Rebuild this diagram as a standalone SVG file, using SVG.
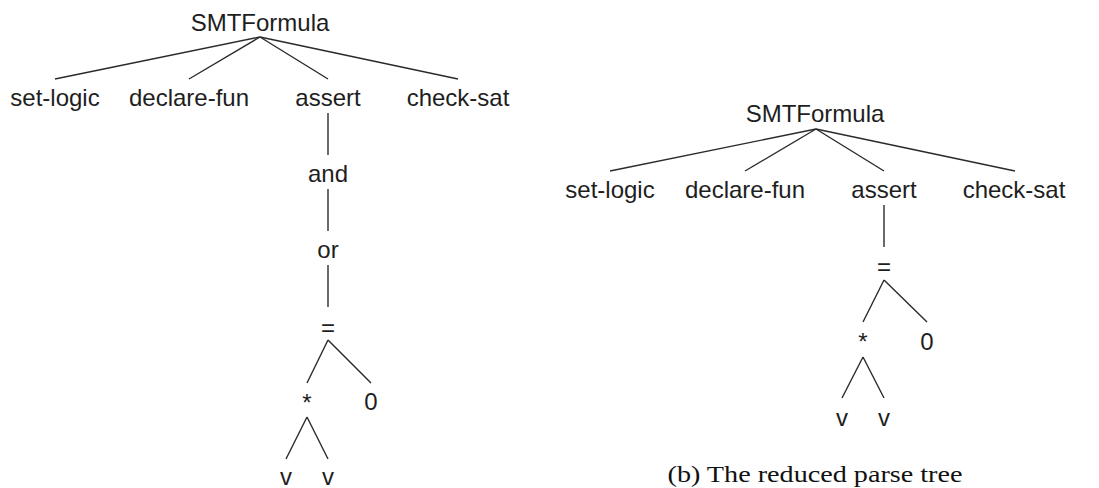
<svg xmlns="http://www.w3.org/2000/svg" width="1099" height="488" viewBox="0 0 1099 488">
<style>
.n{font-family:"Liberation Sans",Arial,sans-serif;font-size:24px;fill:#1e1e1e;text-anchor:middle}
.e line{stroke:#2a2a2a;stroke-width:1.4;fill:none}
.cap{font-family:"Liberation Serif","Times New Roman",serif;font-size:23px;fill:#111;text-anchor:middle}
</style>
<rect width="1099" height="488" fill="#fff"/>
<g id="connectors" class="e">
<line x1="260" y1="37" x2="55" y2="79"/>
<line x1="260" y1="37" x2="189" y2="79"/>
<line x1="260" y1="37" x2="328" y2="79"/>
<line x1="260" y1="37" x2="458" y2="79"/>
<line x1="328" y1="113" x2="328" y2="155"/>
<line x1="328" y1="189" x2="328" y2="231"/>
<line x1="328" y1="265" x2="328" y2="307"/>
<line x1="328" y1="340" x2="307" y2="383"/>
<line x1="328" y1="340" x2="371" y2="383"/>
<line x1="307" y1="417" x2="286" y2="459"/>
<line x1="307" y1="417" x2="328" y2="459"/>
<line x1="816" y1="129" x2="610" y2="171"/>
<line x1="816" y1="129" x2="745" y2="171"/>
<line x1="816" y1="129" x2="884" y2="171"/>
<line x1="816" y1="129" x2="1015" y2="171"/>
<line x1="884" y1="205" x2="884" y2="247"/>
<line x1="884" y1="280" x2="863" y2="322"/>
<line x1="884" y1="280" x2="927" y2="322"/>
<line x1="863" y1="357" x2="842" y2="398"/>
<line x1="863" y1="357" x2="884" y2="398"/>
</g>
<g id="a-root"><text class="n" x="260" y="31">SMTFormula</text></g>
<g id="a-setlogic"><text class="n" x="55" y="106">set-logic</text></g>
<g id="a-declarefun"><text class="n" x="189" y="106">declare-fun</text></g>
<g id="a-assert"><text class="n" x="328" y="106">assert</text></g>
<g id="a-checksat"><text class="n" x="458" y="106">check-sat</text></g>
<g id="a-and"><text class="n" x="328" y="182">and</text></g>
<g id="a-or"><text class="n" x="328" y="258">or</text></g>
<g id="a-eq"><text class="n" x="328" y="336">=</text></g>
<g id="a-mul"><text class="n" x="307" y="411">*</text></g>
<g id="a-zero"><text class="n" x="371" y="410">0</text></g>
<g id="a-v1"><text class="n" x="286" y="485">v</text></g>
<g id="a-v2"><text class="n" x="328" y="485">v</text></g>
<g id="b-root"><text class="n" x="815" y="122">SMTFormula</text></g>
<g id="b-setlogic"><text class="n" x="610" y="198">set-logic</text></g>
<g id="b-declarefun"><text class="n" x="745" y="198">declare-fun</text></g>
<g id="b-assert"><text class="n" x="884" y="198">assert</text></g>
<g id="b-checksat"><text class="n" x="1014" y="198">check-sat</text></g>
<g id="b-eq"><text class="n" x="884" y="275">=</text></g>
<g id="b-mul"><text class="n" x="863" y="350">*</text></g>
<g id="b-zero"><text class="n" x="927" y="350">0</text></g>
<g id="b-v1"><text class="n" x="842" y="426">v</text></g>
<g id="b-v2"><text class="n" x="884" y="426">v</text></g>
<g id="caption"><text class="cap" x="815" y="482" textLength="295" lengthAdjust="spacingAndGlyphs">(b) The reduced parse tree</text></g>
</svg>
